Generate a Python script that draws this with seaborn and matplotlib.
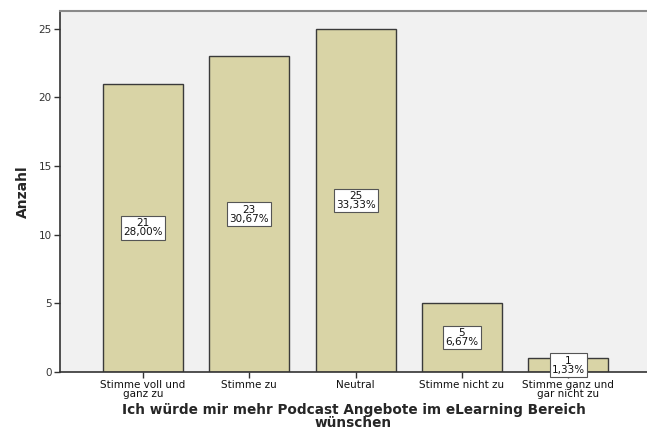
import matplotlib
matplotlib.use("Agg")
import matplotlib.pyplot as plt
import seaborn as sns
import pandas as pd

categories = ["Stimme voll und\nganz zu", "Stimme zu", "Neutral", "Stimme nicht zu", "Stimme ganz und\ngar nicht zu"]
counts = [21, 23, 25, 5, 1]
percent_labels = ["28,00%", "30,67%", "33,33%", "6,67%", "1,33%"]

df = pd.DataFrame({"cat": categories, "n": counts})

sns.set_theme(style="white")
plt.rcParams["font.family"] = ["DejaVu Sans"]

fig = plt.figure(figsize=(6.47, 4.30), dpi=100)
fig.patch.set_facecolor("white")
ax = fig.add_axes([60/647, 58/430, 587/647, 361/430])
ax.set_facecolor("#f1f1f1")

sns.barplot(data=df, x="cat", y="n", color="#d9d4a6", width=0.75,
            edgecolor="#3a3a3a", linewidth=1.0, saturation=1, ax=ax)

ax.set_xlim(-0.78, 4.74)
ax.set_ylim(0, 26.3)
ax.set_yticks([0, 5, 10, 15, 20, 25])
ax.tick_params(axis="y", labelsize=7.5, length=4, width=1, color="#333333", left=True, labelcolor="#333333", pad=2)
ax.tick_params(axis="x", labelsize=7.5, length=4, width=1, color="#333333", bottom=True, labelcolor="#111111", pad=1.5)
for lab in ax.get_xticklabels():
    lab.set_linespacing(0.95)

for s in ["left", "bottom"]:
    ax.spines[s].set_color("#333333")
    ax.spines[s].set_linewidth(1.2)
ax.spines["top"].set_color("#8a8a8a")
ax.spines["top"].set_linewidth(1.5)
ax.spines["right"].set_visible(False)

ax.set_ylabel("Anzahl", fontsize=10, fontweight="bold", labelpad=6)
ax.set_xlabel("Ich würde mir mehr Podcast Angebote im eLearning Bereich\nwünschen",
              fontsize=9.8, fontweight="bold", labelpad=3, linespacing=0.85)

for i, (c, p) in enumerate(zip(counts, percent_labels)):
    ax.text(i, c / 2, f"{c}\n{p}", ha="center", va="center", fontsize=7.5, linespacing=0.9,
            color="#111111",
            bbox=dict(boxstyle="square,pad=0.2", facecolor="white", edgecolor="#555555", linewidth=0.8))

fig.savefig("out.png", dpi=100)
